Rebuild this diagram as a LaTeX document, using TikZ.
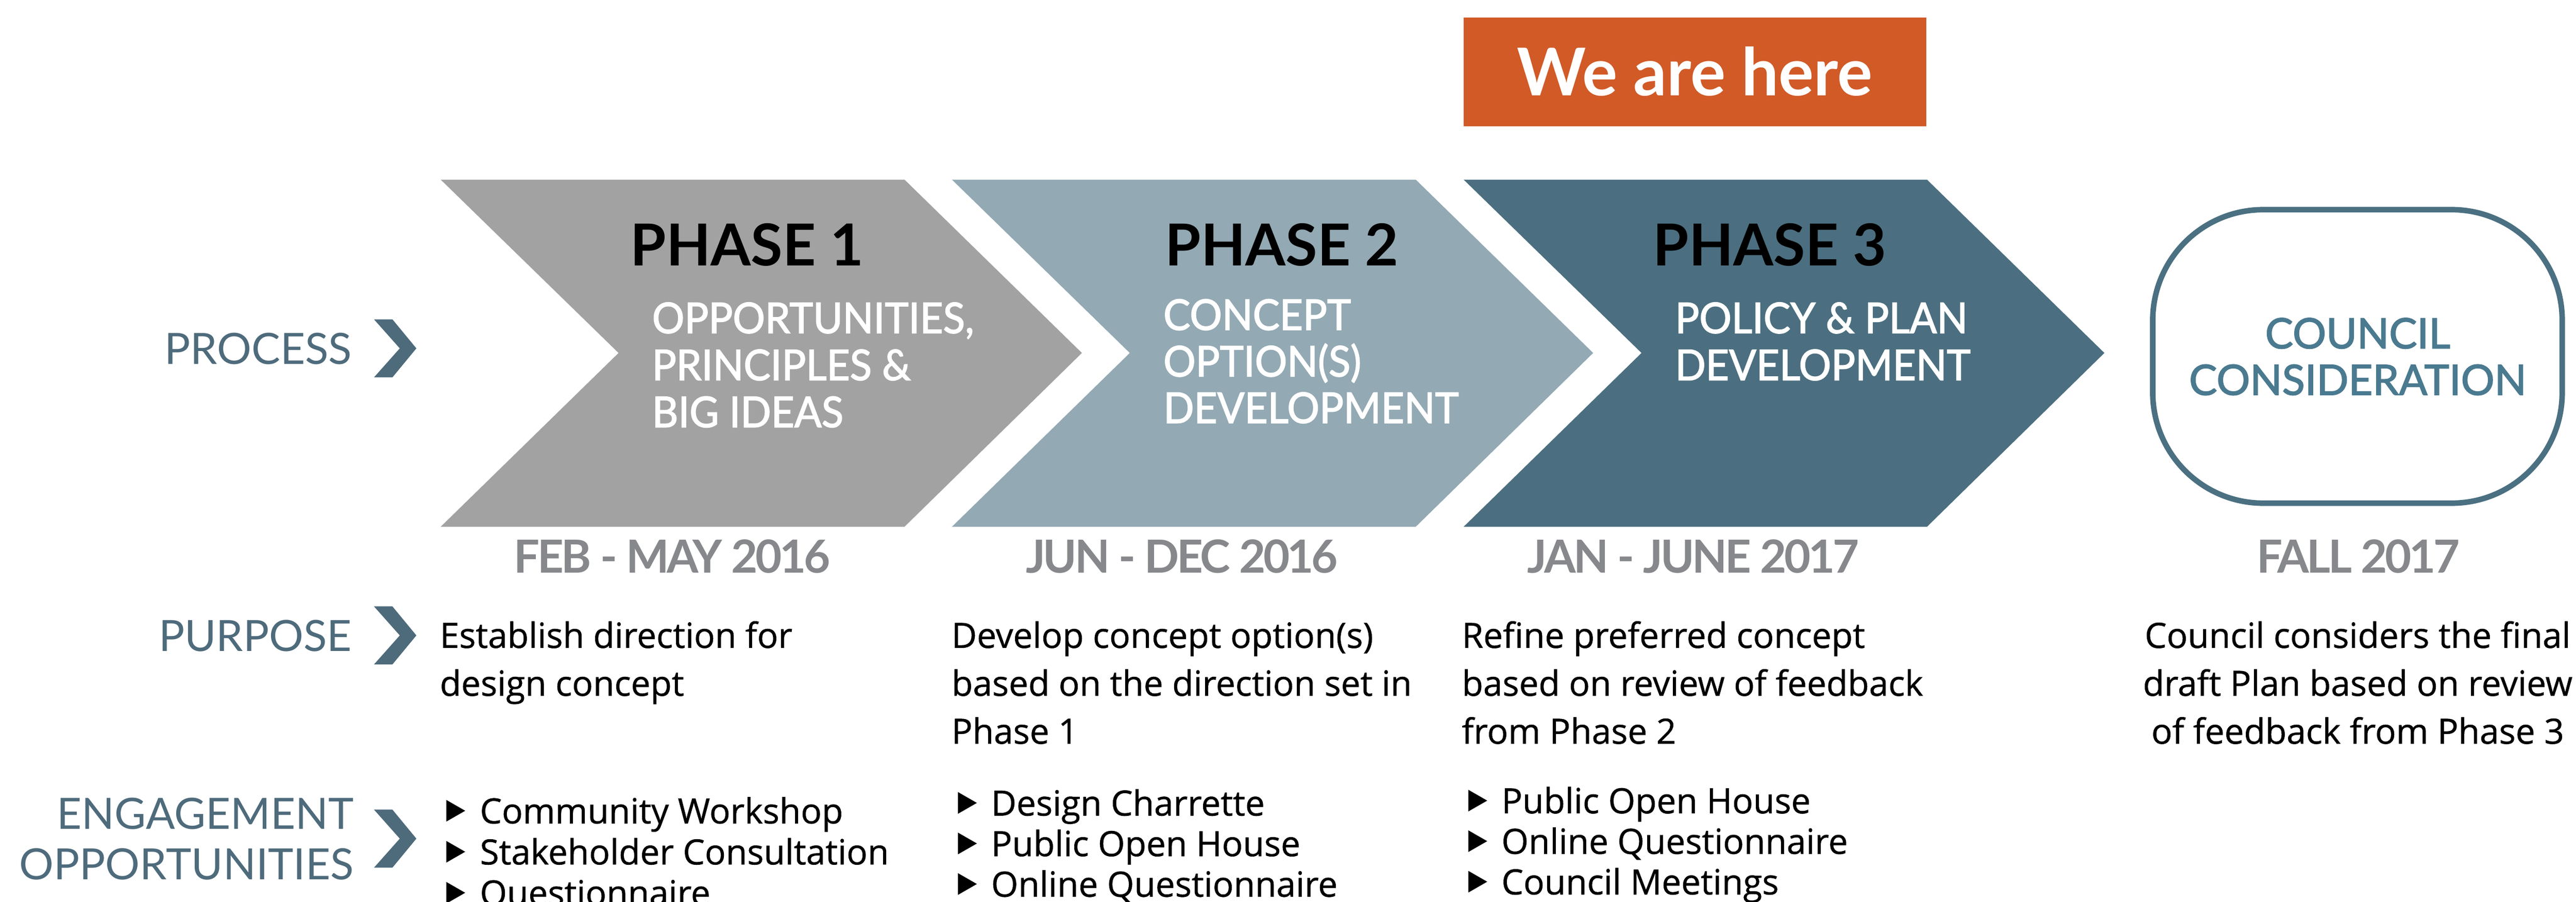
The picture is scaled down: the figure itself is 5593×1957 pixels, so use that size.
\documentclass[tikz,border=0pt]{standalone}
\usepackage{fontspec}
\setmainfont{Lato}
\newfontfamily\hfont{Lato}
\newfontfamily\subfont{Lato}[FakeStretch=0.95,FakeBold=2]
\newfontfamily\councilfont{Lato}[FakeBold=2]
\newfontfamily\datefont{Lato}[LetterSpace=-5]
\newfontfamily\bodyfont{Open Sans}[FakeBold=0.8]
\definecolor{phaseA}{HTML}{A2A2A2}
\definecolor{phaseB}{HTML}{93A9B3}
\definecolor{phaseC}{HTML}{4B6F80}
\definecolor{labelc}{HTML}{4E6B7C}
\definecolor{councilc}{HTML}{4A7082}
\definecolor{counciltxt}{HTML}{4A7A90}
\definecolor{dategray}{HTML}{87888B}
\definecolor{herec}{HTML}{D15A27}
\tikzset{
  txt/.style={inner sep=0pt, outer sep=0pt},
  phasetitle/.style={txt, anchor=base west, font=\hfont\bfseries\fontsize{125.6}{130}\selectfont},
  subtitle/.style={txt, anchor=base west, text=white, font=\subfont\fontsize{92}{100}\selectfont},
  lbl/.style={txt, anchor=base east, text=labelc, font=\hfont\fontsize{93.5}{100}\selectfont},
  datetxt/.style={txt, anchor=base, text=dategray, font=\datefont\bfseries\fontsize{99}{100}\selectfont},
  bodytxt/.style={txt, anchor=base west, font=\bodyfont\fontsize{75.5}{100}\selectfont},
  bodyctr/.style={bodytxt, anchor=base},
  councilt/.style={txt, anchor=base, text=counciltxt, font=\councilfont\fontsize{91}{100}\selectfont},
}
\newcommand\bulmark[2]{\fill (#1,#2-51) -- (#1+41,#2-27.5) -- (#1,#2-4) -- cycle;}
\newcommand\lblmark[2]{\fill[labelc] (#1,#2-63) -- (#1+40,#2-63) -- (#1+92,#2) -- (#1+40,#2+63) -- (#1,#2+63) -- (#1+56,#2) -- cycle;}
\begin{document}
\begin{tikzpicture}[x=1pt,y=-1pt]
\useasboundingbox (0,0) rectangle (5593,1957);
\fill[white] (0,0) rectangle (5593,1957);
% chevrons
\fill[phaseA] (957,390) -- (1964,390) -- (2349,766) -- (1964,1143) -- (957,1143) -- (1343,766) -- cycle;
\fill[phaseB] (2067,390) -- (3074,390) -- (3459,766) -- (3074,1143) -- (2067,1143) -- (2453,766) -- cycle;
\fill[phaseC] (3178,390) -- (4184,390) -- (4569,766) -- (4184,1143) -- (3178,1143) -- (3564,766) -- cycle;
% we are here
\node[txt, fill=herec, minimum width=1004, minimum height=236, anchor=north west] (here) at (3178,38) {};
\node[txt, anchor=base, text=white, font=\hfont\bfseries\fontsize{143}{150}\selectfont] (heretxt) at (3680,207) {We are here};
% council
\node[draw=councilc, line width=12, rounded corners=240, minimum width=889, minimum height=637, txt] (council) at (5118.5,773.5) {};
\node[councilt] (c1) at (5119,756) {COUNCIL};
\node[councilt] (c2) at (5119,857) {CONSIDERATION};
% phase titles
\node[phasetitle] (p1) at (1369,577) {PHASE 1};
\node[phasetitle] (p2) at (2530,577) {PHASE 2};
\node[phasetitle] (p3) at (3589,577) {PHASE 3};
\node[subtitle] (s11) at (1416,723) {OPPORTUNITIES,};
\node[subtitle] (s12) at (1416,825) {PRINCIPLES \&};
\node[subtitle] (s13) at (1416,927) {BIG IDEAS};
\node[subtitle] (s21) at (2526,716) {CONCEPT};
\node[subtitle] (s22) at (2526,817) {OPTION(S)};
\node[subtitle] (s23) at (2526,918) {DEVELOPMENT};
\node[subtitle] (s31) at (3637,723) {POLICY \& PLAN};
\node[subtitle] (s32) at (3637,825) {DEVELOPMENT};
% labels
\node[lbl] (lproc) at (764,790) {PROCESS};
\lblmark{812}{756}
\node[lbl] (lpurp) at (764,1413) {PURPOSE};
\lblmark{812}{1379}
\node[lbl] (leng1) at (768,1799) {ENGAGEMENT};
\node[lbl] (leng2) at (768,1909) {OPPORTUNITIES};
\lblmark{812}{1820}
% dates
\node[datetxt] (d1) at (1459,1243) {FEB - MAY 2016};
\node[datetxt] (d2) at (2566,1243) {JUN - DEC 2016};
\node[datetxt] (d3) at (3676,1243) {JAN - JUNE 2017};
\node[datetxt] (d4) at (5120,1243) {FALL 2017};
% purpose
\node[bodytxt] (a1) at (955,1406) {Establish direction for};
\node[bodytxt] (a2) at (955,1510) {design concept};
\node[bodytxt] (b1) at (2066,1406) {Develop concept option(s)};
\node[bodytxt] (b2) at (2066,1510) {based on the direction set in};
\node[bodytxt] (b3) at (2066,1614) {Phase 1};
\node[bodytxt] (e1) at (3174,1406) {Refine preferred concept};
\node[bodytxt] (e2) at (3174,1510) {based on review of feedback};
\node[bodytxt] (e3) at (3174,1614) {from Phase 2};
\node[bodyctr] (f1) at (5119,1406) {Council considers the final};
\node[bodyctr] (f2) at (5119,1510) {draft Plan based on review};
\node[bodyctr] (f3) at (5119,1614) {of feedback from Phase 3};
% engagement bullets
\bulmark{969}{1787}
\node[bodytxt] (g1) at (1042,1787) {Community Workshop};
\bulmark{969}{1876}
\node[bodytxt] (g2) at (1042,1876) {Stakeholder Consultation};
\bulmark{969}{1965}
\node[bodytxt] (g3) at (1042,1965) {Questionnaire};
\bulmark{2080}{1770}
\node[bodytxt] (h1) at (2152,1770) {Design Charrette};
\bulmark{2080}{1858}
\node[bodytxt] (h2) at (2152,1858) {Public Open House};
\bulmark{2080}{1946}
\node[bodytxt] (h3) at (2152,1946) {Online Questionnaire};
\bulmark{3188}{1765}
\node[bodytxt] (k1) at (3260,1765) {Public Open House};
\bulmark{3188}{1853}
\node[bodytxt] (k2) at (3260,1853) {Online Questionnaire};
\bulmark{3188}{1941}
\node[bodytxt] (k3) at (3260,1941) {Council Meetings};
\end{tikzpicture}
\end{document}
